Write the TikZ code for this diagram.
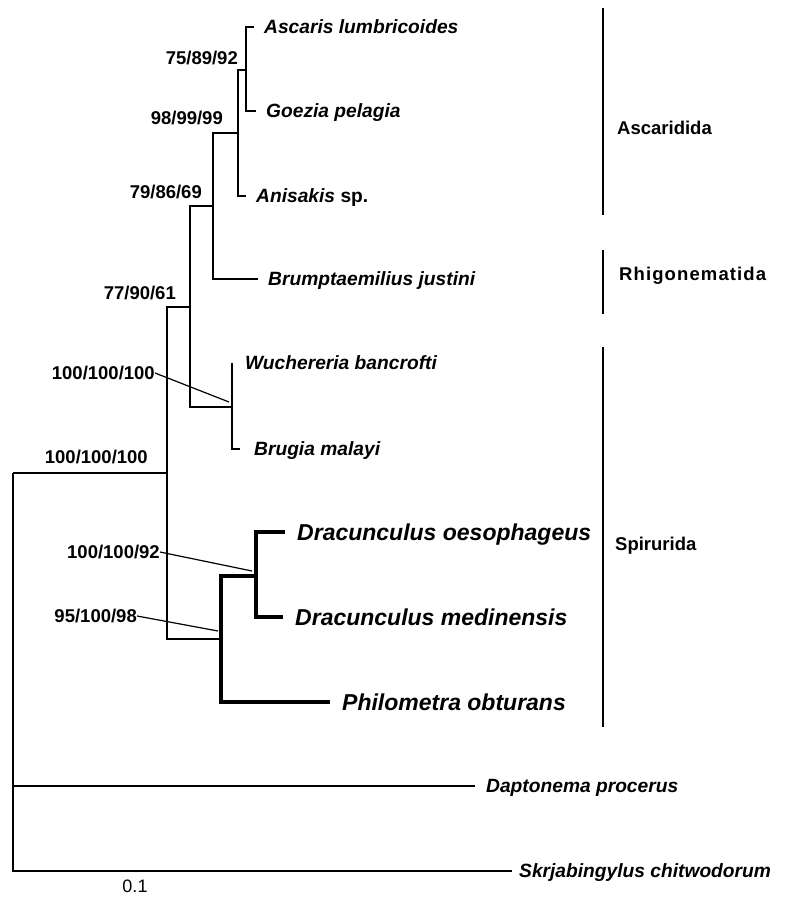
\documentclass[tikz,border=0pt]{standalone}
\usepackage{fontspec}
\setmainfont{Liberation Sans}
\usetikzlibrary{positioning}

\begin{document}
\begin{tikzpicture}[
    x=1pt, y=-1pt,
    tip/.style={anchor=west, inner xsep=10pt, inner ysep=0pt, text height=13.6pt, text depth=0pt,
                font=\fontsize{19.2}{21}\selectfont\bfseries\itshape},
    bigtip/.style={tip, inner xsep=12pt, text height=16.5pt,
                   font=\fontsize{23}{26}\selectfont\bfseries\itshape},
    supp/.style={anchor=east, inner sep=0pt, text height=13.2pt, text depth=0pt,
                 font=\fontsize{18.5}{20}\selectfont\bfseries},
    clade/.style={anchor=west, inner sep=0pt, text height=13.2pt, text depth=0pt,
                  font=\fontsize{18.5}{20}\selectfont\bfseries},
    branch/.style={line width=1.3pt},
    heavy/.style={line width=3.4pt},
    outer/.style={line width=1.9pt},
    bar/.style={line width=1.8pt},
    lead/.style={line width=1.2pt}
  ]
    \useasboundingbox (0,0) rectangle (785,897);

    % internal nodes
    \coordinate (root) at (13,473);
    \coordinate (n1) at (167,473);
    \coordinate (n2) at (190,307);
    \coordinate (n3) at (213,206);
    \coordinate (n4) at (238,133);
    \coordinate (n5) at (246,70);
    \coordinate (n6) at (232,407);
    \coordinate (n7) at (221,639);
    \coordinate (n8) at (256,576);

    % taxa
    \node[tip] (asc) at (254,27) {Ascaris lumbricoides};
    \node[tip] (goe) at (256,111) {Goezia pelagia};
    \node[tip] (ani) at (246,196) {Anisakis \upshape sp.};
    \node[tip] (bru) at (258,279) {Brumptaemilius justini};
    \node[tip, inner xsep=13pt] (wuc) at (232,363) {Wuchereria bancrofti};
    \node[tip, inner xsep=14pt] (brm) at (240,449) {Brugia malayi};
    \node[bigtip] (doe) at (285,532) {Dracunculus oesophageus};
    \node[bigtip] (dme) at (283,617) {Dracunculus medinensis};
    \node[bigtip] (phi) at (330,702) {Philometra obturans};
    \node[tip, inner xsep=11pt] (dap) at (475,786) {Daptonema procerus};
    \node[tip, inner xsep=7pt] (skr) at (512,871) {Skrjabingylus chitwodorum};

    % branches
    \draw[outer] (root) |- (dap.west);
    \draw[outer] (root) |- (skr.west);
    \draw[branch] (root) -- (n1);
    \draw[branch] (n1) |- (n2);
    \draw[branch] (n1) |- (n7);
    \draw[branch] (n2) |- (n3);
    \draw[branch] (n2) |- (n6);
    \draw[branch] (n3) |- (n4);
    \draw[branch] (n3) |- (bru.west);
    \draw[branch] (n4) |- (n5);
    \draw[branch] (n4) |- (ani.west);
    \draw[branch] (n5) |- (asc.west);
    \draw[branch] (n5) |- (goe.west);
    \draw[branch] (n6) |- (wuc.west);
    \draw[branch] (n6) |- (brm.west);
    \draw[heavy] (n7) |- (n8);
    \draw[heavy] (n7) |- (phi.west);
    \draw[heavy] (n8) |- (doe.west);
    \draw[heavy] (n8) |- (dme.west);

    % support values
    \node[supp] (s5) at (238,58) {75/89/92};
    \node[supp] (s4) at (223,118) {98/99/99};
    \node[supp] (s3) at (202,192) {79/86/69};
    \node[supp] (s2) at (176,293) {77/90/61};
    \node[supp] (s6) at (155,373) {100/100/100};
    \node[supp] (s1) at (148,457) {100/100/100};
    \node[supp] (s8) at (160,552) {100/100/92};
    \node[supp] (s7) at (137,616) {95/100/98};
    \coordinate (p6) at (229,402);
    \coordinate (p8) at (252,571);
    \coordinate (p7) at (218,631);
    \draw[lead] (s6.east) -- (p6);
    \draw[lead] (s8.east) -- (p8);
    \draw[lead] (s7.east) -- (p7);

    % clades
    \coordinate (ascT) at (603,8);
    \coordinate (ascB) at (603,215);
    \coordinate (rhiT) at (603,250);
    \coordinate (rhiB) at (603,314);
    \coordinate (spiT) at (603,347);
    \coordinate (spiB) at (603,727);
    \draw[bar] (ascT) -- (ascB);
    \draw[bar] (rhiT) -- (rhiB);
    \draw[bar] (spiT) -- (spiB);
    \node[clade] (ascar) at (617,128) {Ascaridida};
    \node[clade] (rhigo) at (619,274) {\addfontfeatures{LetterSpace=6}Rhigonematida};
    \node[clade] (spiru) at (615,544) {Spirurida};

    \node[font=\fontsize{18}{20}\selectfont] (scale) at (135,886) {0.1};
\end{tikzpicture}
\end{document}
